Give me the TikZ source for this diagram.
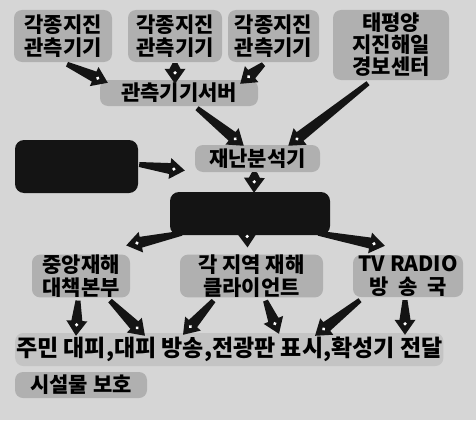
\documentclass[tikz,border=0pt]{standalone}
\usepackage{fontspec}
\setmainfont{Noto Sans CJK KR}
\usetikzlibrary{calc}
\definecolor{bggray}{HTML}{D6D6D6}
\definecolor{boxgray}{HTML}{B0B0B0}
\definecolor{stripgray}{HTML}{C4C4C4}
\definecolor{darkbox}{HTML}{141414}
\newcommand\fatarr[2]{%
  \coordinate (faS) at #1;
  \coordinate (faE) at #2;
  \path let \p1=($(faE)-(faS)$), \n1={atan2(\y1,\x1)}, \n2={veclen(\x1,\y1)} in
    \pgfextra{\xdef\faang{\n1}\xdef\falen{\n2}};
  \begin{scope}[shift={(faS)}, rotate=\faang]
    \fill[darkbox] (0pt,-2.5pt) -- (\falen-15pt,-5.5pt) -- (\falen-15pt,-10.5pt) -- (\falen,0pt)
      -- (\falen-15pt,10.5pt) -- (\falen-15pt,5.5pt) -- (0pt,2.5pt) -- cycle;
    \fill[white] (\falen-11pt,0pt) circle (1.8pt);
  \end{scope}}
\begin{document}
\begin{tikzpicture}[x=1pt,y=-1pt,
  box/.style={fill=boxgray, rounded corners=8pt, align=center, inner sep=0pt,
    font=\fontsize{21}{23}\selectfont\bfseries},
  darkrect/.style={fill=darkbox, rounded corners=9pt, inner sep=0pt}]
\useasboundingbox (0,0) rectangle (476,420);
\fill[bggray] (0,0) rectangle (476,420);
% top row
\node[box, minimum width=98pt, minimum height=52pt] (s1) at (63,36) {각종지진\\관측기기};
\node[box, minimum width=94pt, minimum height=52pt] (s2) at (175,36) {각종지진\\관측기기};
\node[box, minimum width=91pt, minimum height=52pt] (s3) at (273.5,36) {각종지진\\관측기기};
\node[box, minimum width=116pt, minimum height=70pt, font=\fontsize{21}{22}\selectfont\bfseries] (pt) at (391,45) {태평양\\지진해일\\경보센터};
\node[box, minimum width=158pt, minimum height=26pt] (srv) at (179,93) {관측기기서버};
% middle
\node[darkrect, minimum width=123pt, minimum height=53pt] (bl) at (76.5,166.5) {};
\node[box, minimum width=125pt, minimum height=27pt] (ana) at (257.5,158.5) {재난분석기};
\node[darkrect, minimum width=160pt, minimum height=43pt] (bc) at (250,213.5) {};
% lower row
\node[box, minimum width=98pt, minimum height=42pt] (b1) at (81,276) {중앙재해\\대책본부};
\node[box, minimum width=143pt, minimum height=42pt] (b2) at (251.5,276) {각 지역 재해\\클라이언트};
\node[box, minimum width=110pt, minimum height=42pt] (b3) at (408,276) {TV RADIO\\방\ \ 송\ \ 국};
% bottom
\node[box, fill=stripgray, anchor=west, minimum height=33pt, inner xsep=1pt,
  font=\fontsize{23}{24}\selectfont\bfseries] (strip) at (15,349.5) {주민\ 대피,대피\ 방송,전광판\ 표시,확성기\ 전달};
\node[box, minimum width=132pt, minimum height=26pt] (prot) at (81,385) {시설물 보호};
% arrows
\fatarr{($(s1.south)+(4,2)$)}{($(srv.north west)+(8,3)$)}
\fatarr{($(s2.south)+(0,1)$)}{($(srv.north)+(-4,4)$)}
\fatarr{($(s3.south)+(-10,2)$)}{($(srv.north east)+(-18,4)$)}
\fatarr{($(srv.south)+(18,2)$)}{($(ana.north west)+(49,1)$)}
\fatarr{($(pt.south)+(-23,3)$)}{($(ana.north east)+(-32,1)$)}
\fatarr{($(bl.east)+(1,-2)$)}{($(ana.west)+(-10,12)$)}
\fatarr{($(ana.south)+(-3,0)$)}{($(bc.north)+(4,1)$)}
\fatarr{($(bc.south west)+(12,-2)$)}{($(b1.north east)+(-4,-9)$)}
\fatarr{($(bc.south)+(-3,-4)$)}{($(b2.north)+(-4,-7)$)}
\fatarr{($(bc.south east)+(-12,-2)$)}{($(b3.north west)+(32,-9)$)}
\fatarr{($(b1.south)+(-3,3)$)}{($(strip.north west)+(61,3)$)}
\fatarr{($(b1.south)+(29,3)$)}{($(strip.north west)+(130,3)$)}
\fatarr{($(b2.south)+(-38,3)$)}{($(strip.north west)+(168,2)$)}
\fatarr{($(b2.south)+(14,3)$)}{($(strip.north west)+(264,1)$)}
\fatarr{($(b3.south)+(-48,3)$)}{($(strip.north west)+(300,3)$)}
\fatarr{($(b3.south)+(-3,3)$)}{($(strip.north west)+(390,2)$)}
\end{tikzpicture}
\end{document}
